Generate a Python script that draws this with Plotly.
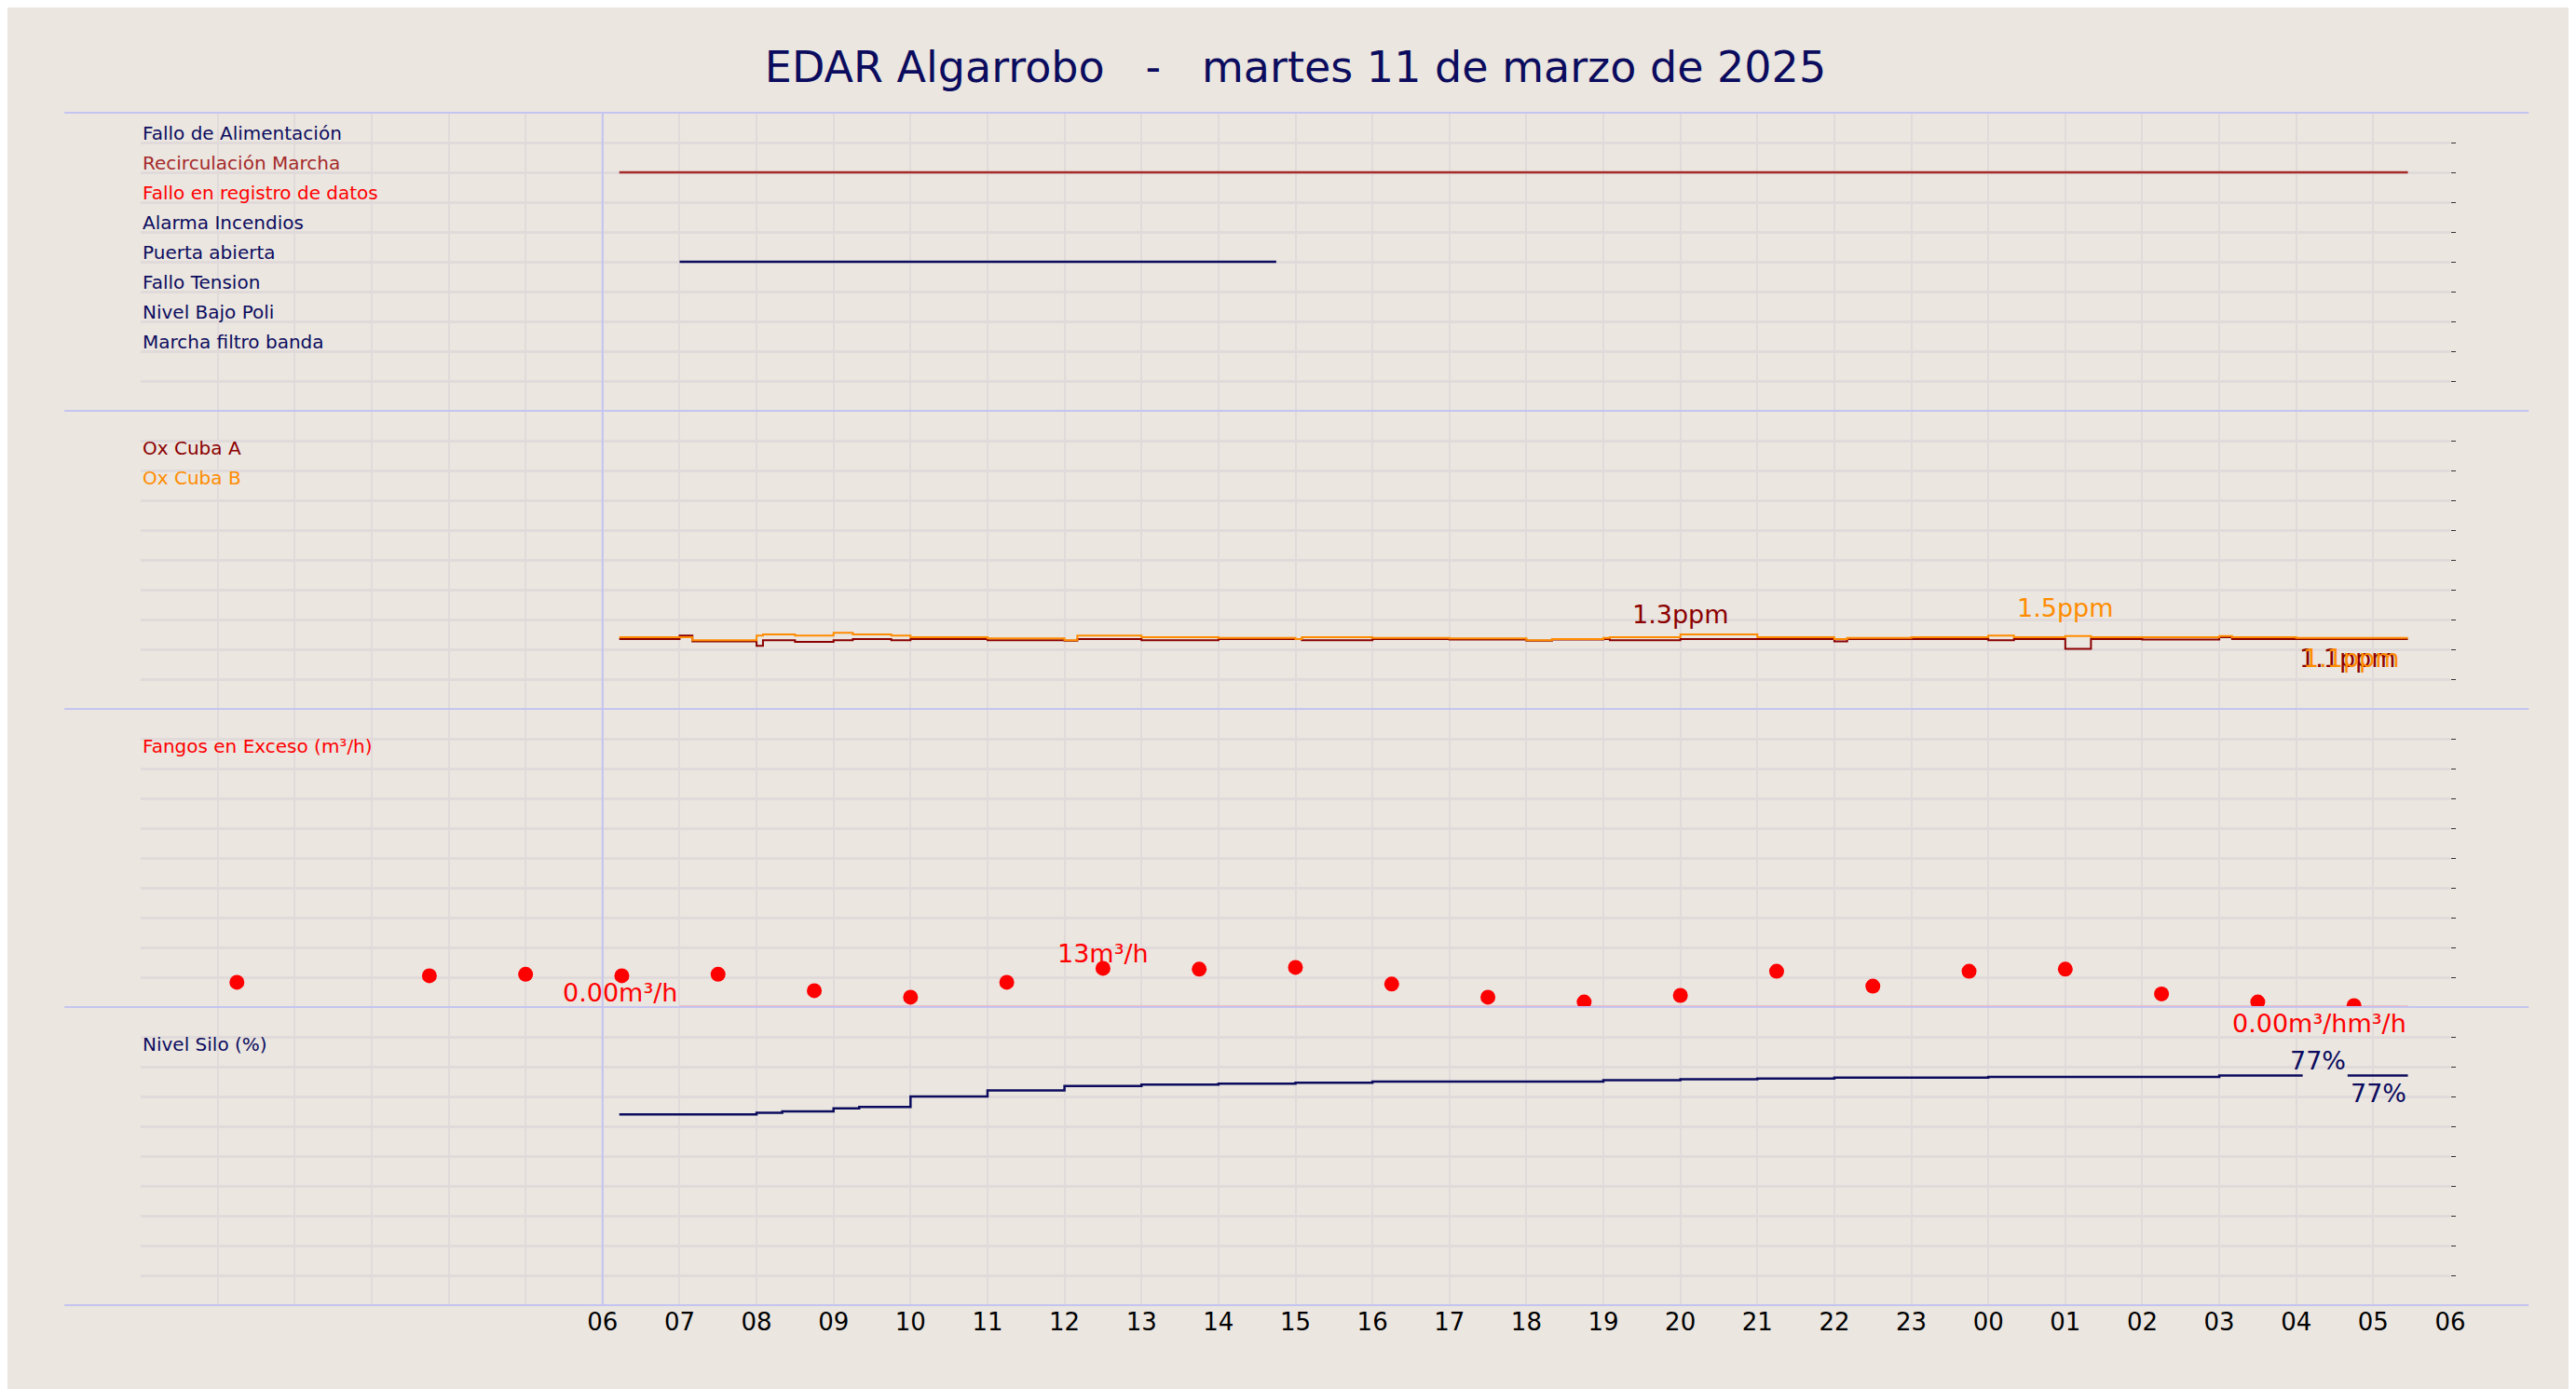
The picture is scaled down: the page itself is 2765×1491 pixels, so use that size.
import plotly.graph_objects as go
from plotly.subplots import make_subplots
import pandas as pd

BG = "#ebe6e0"
GRID = "#e0dbda"
NAVY = "#0c0c5e"

alarm_labels = ["Fallo de Alimentación", "Recirculación Marcha", "Fallo en registro de datos",
                "Alarma Incendios", "Puerta abierta", "Fallo Tension", "Nivel Bajo Poli", "Marcha filtro banda"]
alarm_colors = [NAVY, "#a52a2a", "#ff0000", NAVY, NAVY, NAVY, NAVY, NAVY]
recirc_t = ["2025-03-11 06:13", "2025-03-12 05:27"]
puerta_t = ["2025-03-11 07:00", "2025-03-11 14:45"]

ox_t = ["2025-03-11 06:13", "07:00", "07:10", "08:00", "08:05", "08:30", "09:00", "09:15", "09:45", "10:00",
        "11:00", "12:00", "12:10", "13:00", "14:00", "15:00", "15:05", "16:00", "17:00", "18:00", "18:20",
        "19:00", "19:05", "20:00", "21:00", "22:00", "22:10", "23:00", "00:00", "00:20", "01:00", "01:20",
        "02:00", "03:00", "03:10", "04:00", "05:27"]
oxA = [1.22, 1.28, 1.18, 1.1, 1.2, 1.17, 1.2, 1.22, 1.2, 1.22, 1.2, 1.19, 1.22, 1.2, 1.22, 1.22, 1.2, 1.22,
       1.21, 1.19, 1.21, 1.22, 1.2, 1.22, 1.22, 1.18, 1.22, 1.22, 1.2, 1.22, 1.05, 1.22, 1.21, 1.25, 1.22, 1.22, 1.22]
oxB = [1.25, 1.25, 1.2, 1.28, 1.3, 1.28, 1.33, 1.3, 1.28, 1.25, 1.23, 1.2, 1.28, 1.25, 1.24, 1.22, 1.25, 1.24,
       1.23, 1.2, 1.22, 1.24, 1.25, 1.3, 1.25, 1.22, 1.24, 1.25, 1.28, 1.25, 1.27, 1.25, 1.25, 1.27, 1.25, 1.24, 1.24]

fango_t = ["01:15", "03:45", "05:00", "06:15", "07:30", "08:45", "10:00", "11:15", "12:30", "13:45", "15:00",
           "16:15", "17:30", "18:45", "20:00", "21:15", "22:30", "23:45", "01:00", "02:15", "03:30", "04:45"]
fango_v = [8.3, 10.5, 11, 10.5, 11, 5.5, 3.3, 8.3, 13, 12.7, 13.3, 7.7, 3.3, 1.7, 3.9, 12, 7, 12, 12.7, 4.4, 1.7, 0.5]
fango_zero_t = ["2025-03-11 07:00", "2025-03-12 05:27"]

silo_t = ["2025-03-11 06:13", "08:00", "08:20", "09:00", "09:20", "10:00", "11:00", "12:00", "13:00", "14:00",
          "15:00", "16:00", "19:00", "20:00", "21:00", "22:00", "00:00", "03:00", "04:05"]
silo_v = [64, 64.5, 65, 66, 66.5, 70, 72, 73.5, 74, 74.3, 74.6, 75, 75.5, 75.8, 76, 76.3, 76.6, 77, 77]
silo_end_t = ["2025-03-12 04:40", "2025-03-12 05:27"]
silo_end_v = [77, 77]


def fix_times(ts, start_day="2025-03-11"):
    out, day, prev = [], pd.Timestamp(start_day), None
    for t in ts:
        if len(t) > 5:
            ts_ = pd.Timestamp(t)
        else:
            ts_ = pd.Timestamp(f"{day.date()} {t}")
            if prev is not None and ts_ < prev:
                day = day + pd.Timedelta(days=1)
                ts_ = pd.Timestamp(f"{day.date()} {t}")
        day = ts_.normalize()
        out.append(ts_)
        prev = ts_
    return out


fig = make_subplots(rows=4, cols=1, shared_xaxes=True, vertical_spacing=0)

fig.add_trace(go.Scatter(x=pd.to_datetime(recirc_t), y=[2, 2], mode="lines", line=dict(color="#a52a2a", width=2.5)), 1, 1)
fig.add_trace(go.Scatter(x=pd.to_datetime(puerta_t), y=[5, 5], mode="lines", line=dict(color=NAVY, width=2.5)), 1, 1)

oxt = fix_times(ox_t)
fig.add_trace(go.Scatter(x=oxt, y=oxA, mode="lines", line=dict(color="#8b0000", width=2, shape="hv")), 2, 1)
fig.add_trace(go.Scatter(x=oxt, y=oxB, mode="lines", line=dict(color="#ff8c00", width=2, shape="hv")), 2, 1)

fig.add_trace(go.Scatter(x=pd.to_datetime(fango_zero_t), y=[0, 0], mode="lines", line=dict(color="#e0507a", width=2.5)), 3, 1)
fig.add_trace(go.Scatter(x=fix_times(fango_t), y=fango_v, mode="markers", marker=dict(color="#ff0000", size=16)), 3, 1)

fig.add_trace(go.Scatter(x=fix_times(silo_t), y=silo_v, mode="lines", line=dict(color=NAVY, width=2.5, shape="hv")), 4, 1)
fig.add_trace(go.Scatter(x=pd.to_datetime(silo_end_t), y=silo_end_v, mode="lines", line=dict(color=NAVY, width=2.5)), 4, 1)

hours = pd.date_range("2025-03-11 00:00", "2025-03-12 06:00", freq="h")
ticktext = ["" if (i < 6) else h.strftime("%H") for i, h in enumerate(hours)]
for r in range(1, 5):
    fig.update_xaxes(row=r, col=1, range=[hours[0], hours[-1]], tickvals=hours, ticktext=ticktext,
                     showgrid=True, gridcolor=GRID, gridwidth=2, zeroline=False,
                     showticklabels=(r == 4), ticks="", tickfont=dict(size=26, color="#000"))
yr = {1: [10, 0], 2: [0, 5.2], 3: [0, 100], 4: [0, 100]}
dt = {1: 1, 2: 0.52, 3: 10, 4: 10}
for r in range(1, 5):
    fig.update_yaxes(row=r, col=1, range=yr[r], dtick=dt[r], tick0=0, showgrid=True, gridcolor=GRID, gridwidth=3,
                     zeroline=False, showticklabels=False, side="right", ticks="outside", ticklen=5,
                     tickcolor="#333")

ann = []
for i, (lab, c) in enumerate(zip(alarm_labels, alarm_colors)):
    ann.append(dict(xref="x domain", yref="y", x=0, y=i + 0.7, text=lab, xanchor="left", yanchor="middle",
                    showarrow=False, font=dict(size=20, color=c)))
ann.append(dict(xref="x2 domain", yref="y2 domain", x=0, y=0.92, text="Ox Cuba A", xanchor="left", showarrow=False, font=dict(size=20, color="#8b0000")))
ann.append(dict(xref="x2 domain", yref="y2 domain", x=0, y=0.82, text="Ox Cuba B", xanchor="left", showarrow=False, font=dict(size=20, color="#ff8c00")))
ann.append(dict(xref="x3 domain", yref="y3 domain", x=0, y=0.92, text="Fangos en Exceso (m³/h)", xanchor="left", showarrow=False, font=dict(size=20, color="#ff0000")))
ann.append(dict(xref="x4 domain", yref="y4 domain", x=0, y=0.92, text="Nivel Silo (%)", xanchor="left", showarrow=False, font=dict(size=20, color=NAVY)))
ann += [
    dict(xref="x2", yref="y2", x=pd.Timestamp("2025-03-11 20:00"), y=1.65, text="1.3ppm", showarrow=False, font=dict(size=27, color="#8b0000")),
    dict(xref="x2", yref="y2", x=pd.Timestamp("2025-03-12 01:00"), y=1.76, text="1.5ppm", showarrow=False, font=dict(size=27, color="#ff8c00")),
    dict(xref="x2", yref="y2", x=pd.Timestamp("2025-03-12 04:40"), y=0.88, text="1.1ppm", showarrow=False, font=dict(size=27, color="#8b0000")),
    dict(xref="x2", yref="y2", x=pd.Timestamp("2025-03-12 04:43"), y=0.88, text="1.1ppm", showarrow=False, font=dict(size=27, color="#ff8c00")),
    dict(xref="x3", yref="y3", x=pd.Timestamp("2025-03-11 12:30"), y=18, text="13m³/h", showarrow=False, font=dict(size=27, color="#ff0000")),
    dict(xref="x3", yref="y3", x=pd.Timestamp("2025-03-11 07:00"), y=5, text="0.00m³/h", xanchor="right", showarrow=False, font=dict(size=27, color="#ff0000")),
    dict(xref="x3", yref="y3", x=pd.Timestamp("2025-03-12 05:27"), y=0, text="0.00m³/hm³/h", xanchor="right", yanchor="top", showarrow=False, font=dict(size=27, color="#ff0000")),
    dict(xref="x4", yref="y4", x=pd.Timestamp("2025-03-12 04:40"), y=82, text="77%", xanchor="right", showarrow=False, font=dict(size=27, color=NAVY)),
    dict(xref="x4", yref="y4", x=pd.Timestamp("2025-03-12 05:27"), y=71, text="77%", xanchor="right", showarrow=False, font=dict(size=27, color=NAVY)),
]

shapes = []
for yb in [0, 0.25, 0.5, 0.75, 1.0]:
    shapes.append(dict(type="line", xref="paper", yref="paper", x0=-0.033, x1=1.034, y0=yb, y1=yb,
                       line=dict(color="#c4c4f0", width=2)))
shapes.append(dict(type="line", xref="x4", yref="paper", x0=pd.Timestamp("2025-03-11 06:00"), x1=pd.Timestamp("2025-03-11 06:00"),
                   y0=0, y1=1, line=dict(color="#c4c4f0", width=2)))

fig.update_layout(
    width=2765, height=1491, paper_bgcolor=BG, plot_bgcolor=BG, showlegend=False,
    margin=dict(l=143, r=143, t=113, b=98),
    title=dict(text="EDAR Algarrobo   -   martes 11 de marzo de 2025", x=0.5, xanchor="center", y=0.968,
               font=dict(size=46, color=NAVY, family="DejaVu Sans")),
    font=dict(family="DejaVu Sans"),
    annotations=ann, shapes=shapes,
)
fig.write_html("out.html")
